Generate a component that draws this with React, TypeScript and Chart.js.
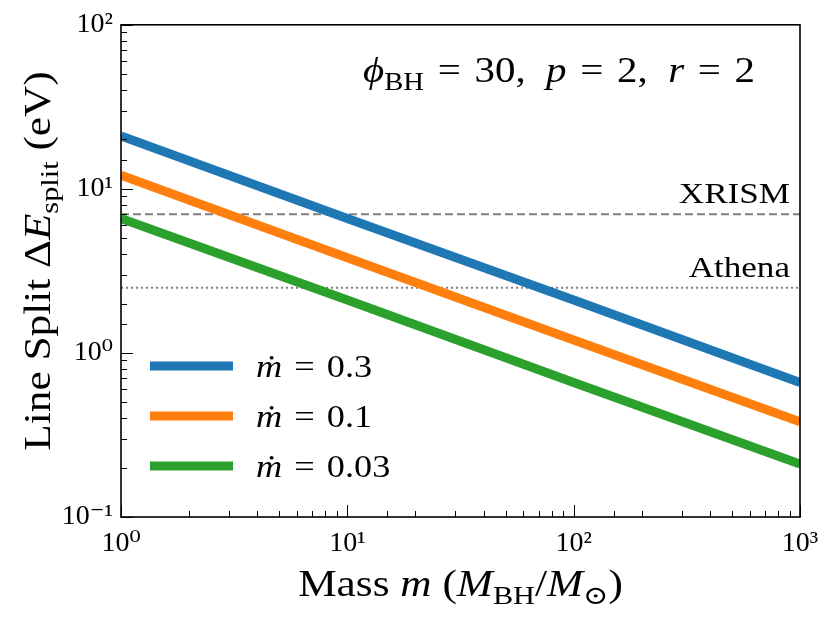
import { useRef, useEffect } from 'react';
import { Chart, registerables } from 'chart.js';

Chart.register(...registerables);

const masses = [1, 10, 100, 1000];
const seriesLabels = ['ṁ = 0.3', 'ṁ = 0.1', 'ṁ = 0.03'];
const seriesValues = [
  [21, 6.6, 2.1, 0.66],
  [12.1, 3.8, 1.2, 0.38],
  [6.6, 2.1, 0.66, 0.21],
];
const seriesColors = ['#1f77b4', '#ff7f0e', '#2ca02c'];
const detectorNames = ['XRISM', 'Athena'];
const detectorLimits = [7, 2.5];
const detectorDashes = [[8, 4], [2, 3]];

const FONT = "'Liberation Serif', 'DejaVu Serif', serif";
const EQ = '\u2004=\u2004';
const sup: Record<string, string> = { '-': '⁻', '0': '⁰', '1': '¹', '2': '²', '3': '³' };
const powLabel = (v: number) => {
  const e = Math.log10(v);
  if (Math.abs(e - Math.round(e)) > 1e-6) return '';
  return '10' + String(Math.round(e)).split('').map(c => sup[c]).join('');
};

// text pieces: [text, italic, subscript]; sx stretches horizontally (CM is wider than Times)
type Piece = [string, boolean, boolean];
function drawRich(ctx: CanvasRenderingContext2D, pieces: Piece[], x: number, y: number, size: number, align: 'left' | 'center' | 'right', sx = 1.17) {
  const fontOf = (p: Piece) => `${p[1] ? 'italic ' : ''}${p[2] ? size * 0.7 : size}px ${FONT}`;
  let total = 0;
  pieces.forEach(p => { ctx.font = fontOf(p); total += ctx.measureText(p[0]).width * sx; });
  let cx = align === 'left' ? x : align === 'center' ? x - total / 2 : x - total;
  ctx.textAlign = 'left';
  ctx.textBaseline = 'alphabetic';
  pieces.forEach(p => {
    ctx.font = fontOf(p);
    ctx.save();
    ctx.translate(cx, p[2] ? y + size * 0.22 : y);
    ctx.scale(sx, 1);
    ctx.fillText(p[0], 0, 0);
    ctx.restore();
    cx += ctx.measureText(p[0]).width * sx;
  });
}

const decorPlugin = {
  id: 'decor',
  afterDraw(chart: any) {
    const { ctx, chartArea: a, scales } = chart;
    ctx.save();
    ctx.strokeStyle = '#000';
    ctx.lineWidth = 1;
    // inward ticks
    scales.x.ticks.forEach((t: any) => {
      const px = Math.round(scales.x.getPixelForValue(t.value)) + 0.5;
      const major = powLabel(t.value) !== '';
      ctx.beginPath();
      ctx.moveTo(px, a.bottom);
      ctx.lineTo(px, a.bottom - (major ? 12 : 6));
      ctx.stroke();
    });
    scales.y.ticks.forEach((t: any) => {
      const py = Math.round(scales.y.getPixelForValue(t.value)) + 0.5;
      const major = powLabel(t.value) !== '';
      ctx.beginPath();
      ctx.moveTo(a.left, py);
      ctx.lineTo(a.left + (major ? 12 : 6), py);
      ctx.stroke();
    });
    ctx.lineWidth = 1.6;
    ctx.strokeRect(a.left, a.top, a.right - a.left, a.bottom - a.top);

    ctx.fillStyle = '#000';
    // detector labels
    detectorNames.forEach((n, i) => {
      const py = scales.y.getPixelForValue(detectorLimits[i]);
      drawRich(ctx, [[n, false, false]], a.right - 10, py - 11, 30, 'right');
    });
    // annotation
    drawRich(ctx, [['ϕ', true, false], ['BH', false, true], [EQ + '30,  ', false, false], ['p', true, false], [EQ + '2,  ', false, false], ['r', true, false], [EQ + '2', false, false]], a.right - 45, 82, 35, 'right');
    // legend
    seriesLabels.forEach((l, i) => {
      const y = 366 + i * 50;
      ctx.strokeStyle = seriesColors[i];
      ctx.lineWidth = 9;
      ctx.beginPath();
      ctx.moveTo(150, y);
      ctx.lineTo(233, y);
      ctx.stroke();
      const [m, rest] = l.split(' = ');
      drawRich(ctx, [[m, true, false], [EQ + rest, false, false]], 256, y + 11, 31, 'left');
    });
    // axis titles
    drawRich(ctx, [['Mass ', false, false], ['m', true, false], [' (', false, false], ['M', true, false], ['BH', false, true], ['/', false, false], ['M', true, false], ['⊙', false, true], [')', false, false]], (a.left + a.right) / 2, 596, 37, 'center');
    ctx.translate(50, 261);
    ctx.rotate(-Math.PI / 2);
    drawRich(ctx, [['Line Split Δ', false, false], ['E', true, false], ['split', false, true], [' (eV)', false, false]], 0, 0, 37, 'center');
    ctx.restore();
  },
};

export default function App() {
  const canvasRef = useRef<HTMLCanvasElement>(null);

  useEffect(() => {
    if (!canvasRef.current) return;
    const datasets: any[] = seriesValues.map((vals, i) => ({
      label: seriesLabels[i],
      data: masses.map((m, j) => ({ x: m, y: vals[j] })),
      borderColor: seriesColors[i],
      borderWidth: 9,
      pointRadius: 0,
      borderCapStyle: 'butt',
    }));
    detectorLimits.forEach((v, i) => {
      datasets.push({
        label: detectorNames[i],
        data: [{ x: masses[0], y: v }, { x: masses[masses.length - 1], y: v }],
        borderColor: '#808080',
        borderWidth: 2,
        borderDash: detectorDashes[i],
        pointRadius: 0,
      });
    });

    const chart = new Chart(canvasRef.current, {
      type: 'line',
      data: { datasets },
      plugins: [decorPlugin],
      options: {
        animation: false,
        responsive: true,
        maintainAspectRatio: false,
        layout: { padding: { top: 21, right: 30, left: 0, bottom: 0 } },
        plugins: { legend: { display: false }, tooltip: { enabled: false } },
        scales: {
          x: {
            type: 'logarithmic',
            min: 1,
            max: 1000,
            grid: { display: false, drawTicks: false },
            border: { display: false },
            afterFit: (s: any) => { s.height = 102; },
            ticks: {
              autoSkip: false,
              maxRotation: 0,
              padding: 10,
              color: '#000',
              font: { family: FONT, size: 28 },
              callback: (v: any) => powLabel(Number(v)),
            },
          },
          y: {
            type: 'logarithmic',
            min: 0.1,
            max: 100,
            grid: { display: false, drawTicks: false },
            border: { display: false },
            afterFit: (s: any) => { s.width = 121; },
            ticks: {
              autoSkip: false,
              padding: 8,
              color: '#000',
              font: { family: FONT, size: 28 },
              callback: (v: any) => powLabel(Number(v)),
            },
          },
        },
      },
    });
    return () => chart.destroy();
  }, []);

  return (
    <div style={{ position: 'fixed', left: 0, top: 0, width: 830, height: 619, background: '#fff' }}>
      <canvas ref={canvasRef}></canvas>
    </div>
  );
}
